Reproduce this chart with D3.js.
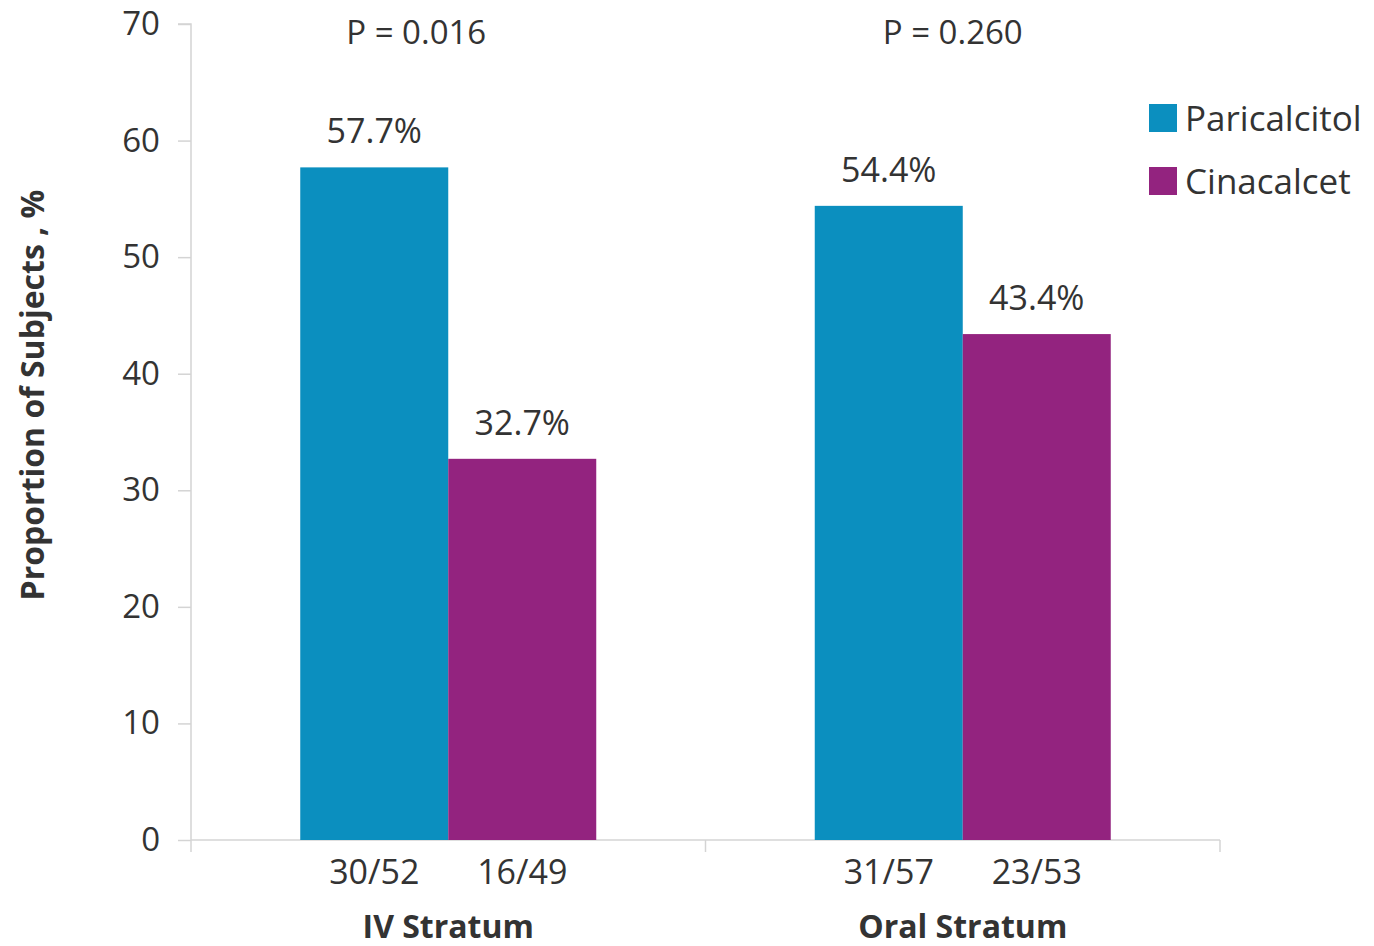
<!DOCTYPE html>
<html>
<head>
<meta charset="utf-8">
<script src="https://cdn.jsdelivr.net/npm/d3@7"></script>
<style>
	body { margin: 0; background: #fff; }
	svg text { font-family: "Open Sans", "Noto Sans", sans-serif; fill: #333; }
</style>
</head>
<body>
<svg width="1374" height="946"></svg>
<script>

const strata = ['IV Stratum', 'Oral Stratum'];
const drugs = ['Paricalcitol', 'Cinacalcet'];
const percents = [[57.7, 32.7], [54.4, 43.4]];
const fractions = [['30/52', '16/49'], ['31/57', '23/53']];
const pValues = ['P = 0.016', 'P = 0.260'];
const yTicks = [0, 10, 20, 30, 40, 50, 60, 70];
const colors = ['#0b8fbf', '#93237f'];

const MARGIN = { top: 24, right: 154, bottom: 106, left: 191 };

const svg = d3.select('svg');
const width = svg.attr('width') - MARGIN.left - MARGIN.right;
const height = svg.attr('height') - MARGIN.top - MARGIN.bottom;

const g = svg.append('g')
	.attr('transform', 'translate(' + MARGIN.left + ' ' + MARGIN.top + ')');

const x0 = d3.scaleBand().domain(strata).range([0, width]).paddingInner(0).paddingOuter(0);
const x1 = d3.scaleBand().domain(drugs).range([0, 296]);
const groupOffset = (x0.bandwidth() - 296) / 2;
const y = d3.scaleLinear().domain([0, 70]).range([height, 0]);

// y axis
const yAxis = g.append('g')
	.call(d3.axisLeft(y).tickValues(yTicks).tickSize(13).tickPadding(18));
yAxis.selectAll('line, path').attr('stroke', '#d4d4d4').attr('stroke-width', 1.5);
yAxis.selectAll('text').style('font-size', '33px').attr('fill', '#333');
yAxis.select('.domain').attr('d', 'M0,' + height + 'V0H-13');

// x axis: ticks at band boundaries
const xa = g.append('g').attr('transform', 'translate(0,' + height + ')');
xa.append('line').attr('x1', 0).attr('x2', width).attr('stroke', '#d4d4d4').attr('stroke-width', 1.5);
xa.selectAll('.xt')
	.data([0, 1, 2])
	.enter()
	.append('line')
	.attr('class', 'xt')
	.attr('x1', d => d * x0.bandwidth())
	.attr('x2', d => d * x0.bandwidth())
	.attr('y1', 0).attr('y2', 12)
	.attr('stroke', '#d4d4d4').attr('stroke-width', 1.5);

const groups = g.selectAll('.grp')
	.data(strata)
	.enter()
	.append('g')
	.attr('class', 'grp')
	.attr('transform', d => 'translate(' + (x0(d) + groupOffset) + ',0)');

groups.selectAll('rect')
	.data((d, i) => drugs.map((k, j) => ({ k: k, v: percents[i][j], j: j })))
	.enter()
	.append('rect')
	.attr('x', d => x1(d.k))
	.attr('width', x1.bandwidth())
	.attr('y', d => y(d.v))
	.attr('height', d => height - y(d.v))
	.attr('fill', d => colors[d.j]);

groups.selectAll('.val')
	.data((d, i) => drugs.map((k, j) => ({ k: k, v: percents[i][j] })))
	.enter()
	.append('text')
	.attr('class', 'val')
	.attr('x', d => x1(d.k) + x1.bandwidth() / 2)
	.attr('y', d => y(d.v) - 24)
	.attr('text-anchor', 'middle')
	.style('font-size', '34px')
	.text(d => d.v.toFixed(1) + '%');

groups.selectAll('.frac')
	.data((d, i) => drugs.map((k, j) => ({ k: k, t: fractions[i][j] })))
	.enter()
	.append('text')
	.attr('class', 'frac')
	.attr('x', d => x1(d.k) + x1.bandwidth() / 2)
	.attr('y', height + 44)
	.attr('text-anchor', 'middle')
	.style('font-size', '34px')
	.text(d => d.t);

groups.append('text')
	.attr('x', 148)
	.attr('y', height + 98)
	.attr('text-anchor', 'middle')
	.style('font-size', '32px')
	.style('font-weight', 'bold')
	.text(d => d);

// p-values, left of the group centre in the first stratum, nearer it in the second
groups.append('text')
	.attr('x', (d, i) => i === 0 ? 116 : 138)
	.attr('y', y(70) + 20)
	.attr('text-anchor', 'middle')
	.style('font-size', '33px')
	.text((d, i) => pValues[i]);

// y title
svg.append('text')
	.attr('transform', 'translate(44,395) rotate(-90)')
	.attr('text-anchor', 'middle')
	.style('font-size', '32px')
	.style('font-weight', 'bold')
	.text('Proportion of Subjects , %');

// legend
const legend = svg.append('g').attr('transform', 'translate(1149,104)');
legend.selectAll('rect')
	.data(drugs)
	.enter()
	.append('rect')
	.attr('x', 0)
	.attr('y', (d, i) => i * 63)
	.attr('width', 28).attr('height', 28)
	.attr('fill', (d, i) => colors[i]);
legend.selectAll('text')
	.data(drugs)
	.enter()
	.append('text')
	.attr('x', 36)
	.attr('y', (d, i) => i * 63 + 27)
	.style('font-size', '35px')
	.text(d => d);

</script>
</body>
</html>
